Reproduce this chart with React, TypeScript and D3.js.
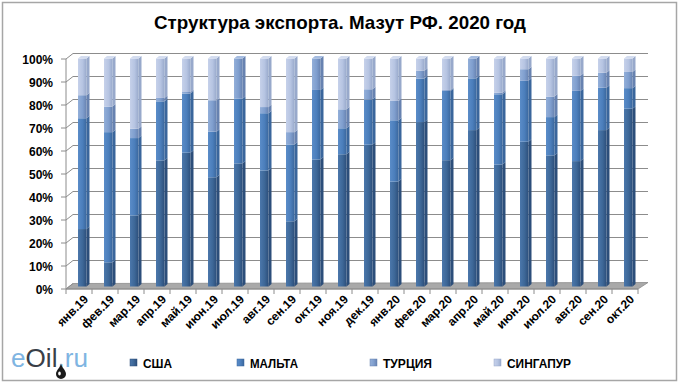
import React from "react";
import * as d3 from "d3";

const months = ["янв.19","фев.19","мар.19","апр.19","май.19","июн.19","июл.19","авг.19","сен.19","окт.19","ноя.19","дек.19","янв.20","фев.20","мар.20","апр.20","май.20","июн.20","июл.20","авг.20","сен.20","окт.20"];
const usa =       [25.2,10.6,31.2,55.3,58.7,47.9,54.0,50.9,28.6,55.7,58.0,62.2,46.0,72.1,55.4,68.6,53.5,63.5,57.5,55.0,68.6,78.0];
const malta =     [48.6,57.1,33.9,25.9,25.9,20.0,28.4,25.1,33.7,30.5,11.4,19.8,26.9,19.1,30.4,22.7,30.8,26.7,16.8,30.8,18.6,9.0];
const turkey =    [10.1,11.2,4.1,1.5,0.7,13.8,17.6,2.7,5.4,13.8,8.3,4.5,8.5,3.4,0.4,8.7,0.7,5.1,9.0,6.6,6.6,7.1];
const singapore = [16.1,21.1,30.8,17.3,14.7,18.3,0.0,21.3,32.3,0.0,22.3,13.5,18.6,5.4,13.8,0.0,15.0,4.7,16.7,7.6,6.2,5.9];
const seriesNames = ["США","МАЛЬТА","ТУРЦИЯ","СИНГАПУР"];
const yTicks = [0,0.1,0.2,0.3,0.4,0.5,0.6,0.7,0.8,0.9,1];

const colors = [
  { base: "#3D6797", light: "#4B77AB", dark: "#2C4E7A", top: "#5C86B8" },
  { base: "#4B7EBB", light: "#5A8CC8", dark: "#3A669C", top: "#7099CF" },
  { base: "#7F9ECE", light: "#93AFD9", dark: "#6782B0", top: "#A5BCE0" },
  { base: "#B6C4E2", light: "#C6D1EA", dark: "#98A9CB", top: "#D3DCEF" },
];

export default function App() {
  const W = 680, H = 384;
  const keys = ["usa", "malta", "turkey", "singapore"];
  const rows = months.map((m, i) => ({ m, usa: usa[i], malta: malta[i], turkey: turkey[i], singapore: singapore[i] }));
  const stack = d3.stack<any>().keys(keys).offset(d3.stackOffsetExpand);
  const series = stack(rows);

  const x = d3.scaleBand<string>().domain(months).range([66, 638]);
  const bw = x.bandwidth();
  const yFront = d3.scaleLinear().domain([0, 1]).range([289, 59]);
  const yBack = d3.scaleLinear().domain([0, 1]).range([283.5, 53.5]);
  const yBar = d3.scaleLinear().domain([0, 1]).range([286.5, 58.5]);
  const backDx = 7;
  const fw = 8.5, sd = 3, sdy = 2.5;
  const font = "'Liberation Sans', Arial, sans-serif";

  const legendX = [130, 237, 370, 494];
  const legendW = [29, 48, 49, 64];

  return (
    <svg width={W} height={H} style={{ position: "absolute", left: 0, top: 0, background: "#fff" }}>
      <defs>
        {colors.map((c, i) => (
          <linearGradient key={i} id={`g${i}`} x1="0" x2="1" y1="0" y2="0">
            <stop offset="0" stopColor={c.light} />
            <stop offset="0.55" stopColor={c.base} />
            <stop offset="1" stopColor={c.dark} />
          </linearGradient>
        ))}
      </defs>
      <rect x={2.5} y={2.5} width={674} height={378} fill="#fff" stroke="#A6A6A6" strokeWidth={1.5} />
      <text x={340} y={29} textAnchor="middle" fontFamily={font} fontWeight="bold" fontSize={19} fill="#000"
        textLength={372} lengthAdjust="spacingAndGlyphs">
        Структура экспорта. Мазут РФ. 2020 год
      </text>

      {/* floor */}
      <polygon points={`${66},${yFront(0)} ${638},${yFront(0)} ${638 + 10},${yBack(0) - 1} ${66 + backDx},${yBack(0)}`} fill="#A9A9A9" stroke="#8C8C8C" strokeWidth={0.8} />

      {/* gridlines on back wall */}
      {yTicks.map((t) => (
        <g key={t}>
          {t > 0 && <line x1={66 + backDx} x2={648} y1={yBack(t)} y2={yBack(t)} stroke="#8C8C8C" strokeWidth={1} />}
          <line x1={66} x2={66 + backDx} y1={yFront(t)} y2={yBack(t)} stroke="#8C8C8C" strokeWidth={1} />
          <line x1={61} x2={66} y1={yFront(t)} y2={yFront(t)} stroke="#8C8C8C" strokeWidth={1} />
          <text x={53} y={yFront(t) + 4.5} textAnchor="end" fontFamily={font} fontWeight="bold" fontSize={12} fill="#000">
            {Math.round(t * 100)}%
          </text>
        </g>
      ))}
      <line x1={66} x2={66} y1={yFront(1)} y2={yFront(0)} stroke="#8C8C8C" strokeWidth={1} />
      <line x1={66} x2={638} y1={yFront(0)} y2={yFront(0)} stroke="#8C8C8C" strokeWidth={1} />
      {months.map((m) => (
        <line key={m} x1={x(m)! + bw} x2={x(m)! + bw} y1={yFront(0)} y2={yFront(0) + 5} stroke="#8C8C8C" strokeWidth={1} />
      ))}
      <line x1={66} x2={66} y1={yFront(0)} y2={yFront(0) + 5} stroke="#8C8C8C" strokeWidth={1} />

      {/* bars */}
      {months.map((m, i) => {
        const bx = x(m)! + bw / 2 - 1;
        let topIdx = 0;
        series.forEach((s, si) => { if (s[i][1] - s[i][0] > 0.0005) topIdx = si; });
        return (
          <g key={m}>
            {series.map((s, si) => {
              const y0 = yBar(s[i][0]);
              const y1 = yBar(s[i][1]);
              if (y0 - y1 < 0.05) return null;
              const c = colors[si];
              return (
                <g key={si}>
                  <rect x={bx} y={y1} width={fw} height={y0 - y1} fill={`url(#g${si})`} />
                  <polygon points={`${bx + fw},${y0} ${bx + fw + sd},${y0 - sdy} ${bx + fw + sd},${y1 - sdy} ${bx + fw},${y1}`} fill={c.dark} />
                </g>
              );
            })}
            <polygon
              points={`${bx},${yBar(1)} ${bx + sd},${yBar(1) - sdy} ${bx + fw + sd},${yBar(1) - sdy} ${bx + fw},${yBar(1)}`}
              fill={colors[topIdx].top}
            />
          </g>
        );
      })}

      {/* x labels */}
      {months.map((m) => {
        const ax = x(m)! + bw / 2 + 10;
        const ay = 300;
        return (
          <text key={m} x={ax} y={ay} transform={`rotate(-45 ${ax} ${ay})`} textAnchor="end" fontFamily={font} fontWeight="bold" fontSize={12} fill="#000">
            {m}
          </text>
        );
      })}

      {/* legend */}
      {seriesNames.map((n, i) => (
        <g key={n}>
          <rect x={legendX[i]} y={359} width={7} height={7} fill={`url(#g${i})`} stroke={colors[i].dark} strokeWidth={0.5} />
          <text x={legendX[i] + 13} y={367.5} fontFamily={font} fontWeight="bold" fontSize={13} fill="#000"
            textLength={legendW[i]} lengthAdjust="spacingAndGlyphs">{n}</text>
        </g>
      ))}

      {/* logo */}
      <text x={11} y={367} fontFamily={font} fontSize={25} fill="#7FB5E2" textLength={77} lengthAdjust="spacingAndGlyphs">
        e<tspan fill="#3A3F48">Oil</tspan>.ru
      </text>
      <path d="M61,363 C61,367 56,370 56,374 A5,5 0 0 0 66,374 C66,370 61,367 61,363 Z" fill="#1A1A1A" />
      <ellipse cx={59.5} cy={373.5} rx={1.3} ry={2} fill="#fff" />
    </svg>
  );
}
